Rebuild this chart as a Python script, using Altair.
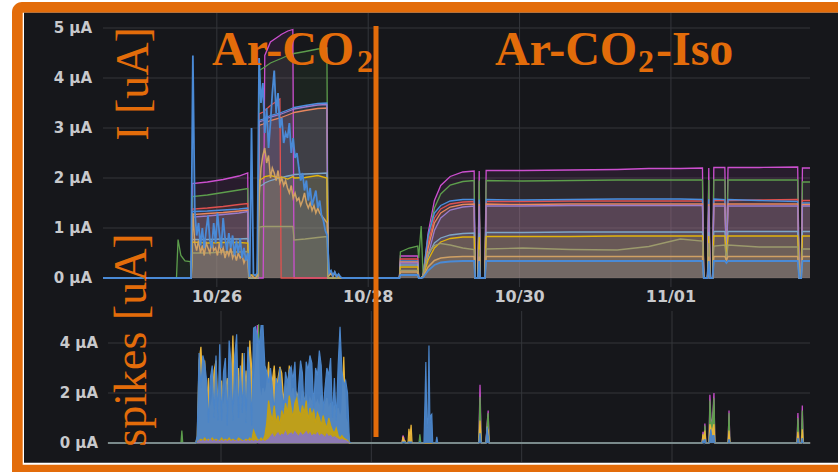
import numpy as np
import pandas as pd
import altair as alt

ORANGE = "#e36c0a"
PANEL = "#16171b"
GRID = "#34363b"
LABEL = "#c8c9cc"
LABEL_FONT = "DejaVu Sans"
TITLE_FONT = "Liberation Serif"

# time axis: hours after 10/24 00:00
TICK_HOURS = [48, 96, 144, 192]
TICK_LABELS = ["10/26", "10/28", "10/30", "11/01"]
TOP_X_DOMAIN = [11.9, 236.1]
BOT_X_DOMAIN = [11.92, 236.06]
TOP_Y_TICKS = [0, 1, 2, 3, 4, 5]
BOT_Y_TICKS = [0, 2, 4]

# ---------------- current panel (µA) ----------------
T_LEFT = [11.9, 35.2, 35.7, 36.6, 37.9, 39.6, 39.9, 40.2, 45.0, 50.0, 55.0, 57.8, 58.1,
          61.0, 61.4, 62.7, 63.2, 65.0, 68.0, 68.4, 70.5, 72.1, 72.5, 76.0, 80.0, 82.9, 83.3]
T_RIGHT = [105.9, 106.2, 109.0, 111.7, 112.0, 112.8, 113.4, 115.0, 117.0, 119.0, 122.0, 126.0,
           129.6, 129.9, 130.8, 131.2, 131.5, 133.0, 133.4, 145.0, 160.0, 175.0, 185.0, 195.0,
           202.0, 202.4, 203.6, 204.0, 204.4, 205.2, 205.6, 209.1, 209.6, 210.1, 220.0,
           232.2, 232.7, 233.3, 233.7, 236.1]

magenta_l = [0, 0, 0, 0, 0, 0, 0, 1.89, 1.92, 1.97, 2.04, 2.10, 0, 0, 0, 0,
             4.45, 4.72, 4.85, 4.87, 4.94, 4.97, 0, 0, 0, 0, 0]
magenta_r = [0, 0.44, 0.44, 0.44, 0, 0, 0.05, 0.90, 1.55, 1.85, 2.03, 2.12, 2.14, 0, 0, 2.14, 0, 0,
             2.15, 2.15, 2.16, 2.17, 2.19, 2.19, 2.20, 0, 0, 2.20, 0, 0, 2.21, 2.21, 0.36, 2.21,
             2.21, 2.22, 0, 0, 2.20, 2.20]
green_l = [0, 0, 0.77, 0.45, 0.34, 0.33, 0, 1.63, 1.66, 1.71, 1.76, 1.79, 0, 0,
           4.15, 4.20, 4.22, 4.30, 4.38, 4.39, 4.45, 4.48, 4.49, 4.53, 4.58, 4.60, 0]
green_r = [0, 0.52, 0.60, 0.64, 0.40, 1.04, 0.05, 0.80, 1.40, 1.68, 1.86, 1.93, 1.95, 0, 0, 1.95, 0, 0,
           1.95, 1.94, 1.95, 1.96, 1.96, 1.96, 1.96, 0, 0, 1.96, 0, 0, 1.96, 1.96, 0.36, 1.96,
           1.96, 1.96, 0, 0, 1.92, 1.92]
red_l = [0, 0, 0, 0, 0, 0, 0, 1.38, 1.40, 1.43, 1.47, 1.49, 0, 0,
         3.28, 3.32, 3.35, 3.45, 3.58, 0, 0, 0, 0, 0, 0, 0, 0]
red_r = [0, 0.38, 0.38, 0.38, 0, 0, 0.05, 0.70, 1.20, 1.38, 1.48, 1.52, 1.53, 0, 0, 1.53, 0, 0,
         1.53, 1.53, 1.54, 1.54, 1.54, 1.54, 1.54, 0, 0, 1.55, 0, 0, 1.55, 1.55, 0.36, 1.55,
         1.56, 1.57, 0, 0, 1.55, 1.55]
blue_l = [0, 0, 0, 0, 0, 0, 0, 1.33, 1.34, 1.36, 1.38, 1.40, 0, 0,
          3.15, 3.18, 3.20, 3.25, 3.30, 3.31, 3.36, 3.40, 3.41, 3.45, 3.49, 3.50, 0]
blue_r = [0, 0.34, 0.34, 0.34, 0, 0, 0.05, 0.85, 1.30, 1.45, 1.54, 1.57, 1.57, 0, 0, 1.57, 0, 0,
          1.57, 1.56, 1.57, 1.58, 1.58, 1.58, 1.57, 0, 0, 1.58, 0, 0, 1.58, 1.57, 0.36, 1.57,
          1.55, 1.53, 0, 0, 1.50, 1.50]
orange_l = [0, 0, 0, 0, 0, 0, 0, 1.27, 1.29, 1.31, 1.34, 1.36, 0, 0,
            3.05, 3.08, 3.10, 3.15, 3.20, 3.21, 3.26, 3.30, 3.31, 3.35, 3.39, 3.40, 0]
orange_r = [0, 0.32, 0.32, 0.32, 0, 0, 0.05, 0.60, 1.10, 1.30, 1.42, 1.47, 1.48, 0, 0, 1.48, 0, 0,
            1.48, 1.47, 1.48, 1.48, 1.48, 1.48, 1.48, 0, 0, 1.48, 0, 0, 1.48, 1.48, 0.36, 1.48,
            1.48, 1.48, 0, 0, 1.47, 1.47]
purple_l = [0, 0, 0, 0, 0, 0, 0, 1.22, 1.24, 1.27, 1.30, 1.33, 0, 0,
            3.12, 3.15, 3.17, 3.22, 3.27, 3.28, 3.33, 3.37, 3.38, 3.42, 3.46, 3.47, 0]
purple_r = [0, 0.30, 0.30, 0.30, 0, 0, 0.05, 0.45, 0.95, 1.20, 1.36, 1.42, 1.44, 0, 0, 1.44, 0, 0,
            1.44, 1.44, 1.45, 1.45, 1.45, 1.45, 1.45, 0, 0, 1.44, 0, 0, 1.44, 1.44, 0.36, 1.44,
            1.44, 1.44, 0, 0, 1.44, 1.44]
steel_l = [0, 0, 0, 0, 0, 0, 0, 0.77, 0.77, 0.78, 0.78, 0.79, 0, 0,
           1.83, 1.87, 1.90, 1.95, 2.00, 2.01, 2.04, 2.06, 2.07, 2.08, 2.09, 2.10, 0]
steel_r = [0, 0.26, 0.26, 0.26, 0, 0, 0.04, 0.45, 0.70, 0.80, 0.86, 0.89, 0.90, 0, 0, 0.90, 0, 0,
           0.91, 0.91, 0.92, 0.92, 0.92, 0.92, 0.92, 0, 0, 0.92, 0, 0, 0.93, 0.93, 0.36, 0.93,
           0.93, 0.93, 0, 0, 0.93, 0.93]
yellow_l = [0, 0, 0, 0, 0, 0, 0, 0.72, 0.70, 0.71, 0.71, 0.70, 0.06, 0.06,
            1.95, 2.00, 2.03, 2.05, 2.00, 2.02, 1.98, 2.03, 2.00, 2.01, 2.05, 2.00, 0]
yellow_r = [0, 0.22, 0.22, 0.22, 0, 0, 0.03, 0.36, 0.60, 0.72, 0.79, 0.82, 0.82, 0, 0, 0.82, 0, 0,
            0.83, 0.83, 0.83, 0.84, 0.84, 0.84, 0.84, 0, 0, 0.84, 0, 0, 0.84, 0.84, 0.36, 0.84,
            0.84, 0.84, 0, 0, 0.84, 0.84]
olive_l = [0, 0, 0, 0, 0, 0, 0, 0.50, 0.50, 0.52, 0.52, 0.53, 0, 0,
           1.02, 1.03, 1.03, 1.03, 1.03, 1.03, 1.03, 1.03, 0.76, 0.78, 0.81, 0.83, 0]
olive_r = [0, 0.15, 0.15, 0.15, 0, 0, 0.05, 0.50, 0.65, 0.69, 0.66, 0.60, 0.57, 0, 0, 0.57, 0, 0,
           0.58, 0.60, 0.57, 0.56, 0.63, 0.78, 0.74, 0, 0, 0.70, 0, 0, 0.64, 0.66, 0.36, 0.66,
           0.62, 0.62, 0, 0, 0.58, 0.58]

# two noisy channels, sampled every 0.6 h from 39.8 h
NOISY_START, NOISY_STEP = 39.8, 0.6
azure_dense = [0.0, 4.45, 1.35, 0.85, 1.10, 0.65, 1.00, 0.60, 0.95, 1.25, 0.75, 0.60, 1.10, 0.70,
               1.30, 0.90, 0.60, 1.20, 0.80, 0.55, 0.90, 0.60, 0.85, 0.45, 0.75, 0.50, 0.80, 0.40,
               0.60, 0.35, 0.50, 0.02, 3.00, 0.08, 0.05, 0.10,
               4.40, 3.50, 3.90, 2.90, 3.40, 2.60, 3.10, 3.70, 4.15, 3.30, 3.70, 3.00, 3.20, 2.70,
               2.90, 2.80, 3.10, 2.50, 2.80, 2.40, 2.50, 2.20, 1.95, 2.10, 1.75, 1.95, 1.55, 1.80,
               1.45, 1.60, 1.75, 1.40, 1.55, 1.25, 1.15, 0.95, 0.85,
               0.10, 0.15, 0.05, 0.12, 0.03, 0.08, 0.02, 0.0, 0.0]
azure_r = [0, 0.06, 0.06, 0.06, 0, 0, 0.01, 0.15, 0.26, 0.31, 0.33, 0.34, 0.34, 0, 0, 0.34, 0, 0,
           0.34, 0.34, 0.34, 0.34, 0.34, 0.34, 0.34, 0, 0, 0.34, 0, 0, 0.34, 0.34, 0.30, 0.34,
           0.34, 0.34, 0, 0, 0.34, 0.34]
tan_dense = [0.0, 1.30, 0.70, 0.55, 0.75, 0.50, 0.65, 0.45, 0.70, 0.60, 0.50, 0.75, 0.55, 0.60,
             0.45, 0.70, 0.50, 0.60, 0.40, 0.55, 0.45, 0.60, 0.40, 0.50, 0.35, 0.50, 0.40, 0.45,
             0.30, 0.40, 0.35, 0.02, 0.05, 0.02, 0.00, 0.05,
             1.60, 2.20, 2.45, 2.60, 2.30, 2.45, 2.00, 2.20, 2.10, 1.95, 2.15, 1.90, 2.00, 1.85,
             1.95, 1.80, 1.70, 1.85, 1.60, 1.70, 1.55, 1.60, 1.45, 1.55, 1.70, 1.50, 1.40, 1.50,
             1.35, 1.45, 1.30, 1.40, 1.30, 1.25, 1.20, 1.15, 1.10,
             0.05, 0.10, 0.02, 0.12, 0.02, 0.06, 0.0, 0.0, 0.0]
tan_r = [0, 0.12, 0.12, 0.12, 0, 0, 0.02, 0.22, 0.35, 0.40, 0.42, 0.43, 0.43, 0, 0, 0.43, 0, 0,
         0.43, 0.43, 0.43, 0.43, 0.43, 0.43, 0.43, 0, 0, 0.43, 0, 0, 0.43, 0.43, 0.36, 0.43,
         0.43, 0.43, 0, 0, 0.43, 0.43]

SMOOTH = {
    "magenta": (magenta_l, magenta_r), "green": (green_l, green_r), "red": (red_l, red_r),
    "blue": (blue_l, blue_r), "orange": (orange_l, orange_r), "purple": (purple_l, purple_r),
    "steel": (steel_l, steel_r), "yellow": (yellow_l, yellow_r), "olive": (olive_l, olive_r),
}
NOISY = {"tan": (tan_dense, tan_r), "azure": (azure_dense, azure_r)}
TOP_NAMES = ["magenta", "green", "red", "blue", "orange", "purple", "steel", "yellow", "olive", "tan", "azure"]
TOP_COLORS = ["#cc4fcf", "#5d9e4c", "#e0514f", "#4b8fe0", "#e8875e", "#9a7ccc", "#7fa6c6",
              "#e2b30c", "#9c9a6c", "#cfa064", "#4a8ad6"]

# ---------------- spikes panel (µA) ----------------
SPK_START, SPK_STEP = 40.4, 0.6
SPK_PRE_T = [11.9, 39.9]
SPK_PRE_V = [0, 0]
spk_blue_dense = [0.3, 3.6, 2.2, 3.5, 3.2, 2.5, 0.8, 2.6, 3.1, 1.0,
                  3.5, 0.9, 3.95, 0.9, 2.85, 3.4, 0.7, 4.1, 3.2, 0.9,
                  3.5, 4.35, 1.0, 3.1, 1.2, 3.6, 0.8, 3.85, 2.9, 0.7,
                  4.6, 4.65, 4.3, 3.9, 4.7, 4.7, 3.1, 2.85, 2.4, 3.0,
                  2.2, 1.2, 2.6, 2.2, 3.0, 2.05, 1.4, 2.85, 2.4, 2.9,
                  3.05, 2.5, 3.25, 1.3, 2.3, 3.3, 2.8, 1.1, 3.25, 2.9,
                  3.5, 3.2, 1.4, 3.0, 2.7, 3.7, 3.1, 1.2, 2.2, 3.0,
                  2.7, 3.4, 1.0, 2.6, 0.9, 3.1, 4.65, 2.9, 2.3, 2.5,
                  2.0, 0.05]
spk_gold_dense = [0.2, 3.3, 3.85, 2.0, 3.3, 1.5, 2.6, 1.2, 1.8, 2.9,
                  3.3, 1.4, 2.0, 2.5, 1.2, 2.1, 2.6, 1.5, 2.2, 4.3,
                  1.6, 2.5, 3.0, 1.4, 3.6, 1.8, 2.9, 1.5, 4.1, 3.0,
                  2.2, 3.1, 4.0, 2.4, 1.7, 2.2, 1.9, 2.3, 3.25, 1.8,
                  2.5, 3.1, 2.0, 2.6, 3.05, 2.8, 1.7, 2.3, 2.0, 3.1,
                  1.8, 2.2, 1.6, 2.0, 1.8, 1.5, 2.1, 1.7, 1.9, 1.4,
                  1.8, 1.6, 2.0, 1.5, 1.7, 1.4, 1.9, 1.6, 1.5, 1.8,
                  1.3, 1.6, 1.2, 1.5, 1.1, 1.4, 1.0, 1.3, 3.45, 1.0,
                  0.8, 0.0]
spk_mustard_dense = [0.05, 0.1, 0.15, 0.1, 0.2, 0.1, 0.15, 0.1, 0.2, 0.1, 0.15, 0.1, 0.1, 0.2,
                     0.1, 0.15, 0.1, 0.2, 0.1, 0.15, 0.1, 0.1, 0.2, 0.15, 0.1, 0.1, 0.15, 0.1,
                     0.2, 0.1, 0.5, 0.3, 0.15, 0.1, 0.2, 0.1, 0.3,
                     0.8, 1.7, 1.2, 0.9, 1.5, 0.8, 1.1, 0.7, 1.3, 1.0, 1.6, 1.2, 1.9, 1.4, 1.0,
                     1.6, 1.8, 1.3, 1.1, 1.5, 1.2, 1.7, 0.9, 1.4, 1.1, 1.3, 0.8, 1.2, 1.0, 0.7,
                     1.1, 0.8, 0.6, 1.0, 0.7, 0.5,
                     0.4, 0.6, 0.3, 0.2, 0.3, 0.2, 0.15, 0.1, 0.0]
spk_violet_dense = [0.0, 0.1, 0.05, 0.1, 0.05, 0.1, 0.05, 0.15, 0.05, 0.1, 0.05, 0.1, 0.05, 0.1,
                    0.05, 0.1, 0.05, 0.1, 0.05, 0.1, 0.05, 0.1, 0.05, 0.1, 0.05, 0.1, 0.05, 0.1,
                    0.05, 0.1, 0.05, 0.1, 0.05, 0.1, 0.05, 0.1, 0.05, 0.1, 0.15,
                    0.25, 0.35, 0.2, 0.3, 0.4, 0.25, 0.35, 0.3, 0.45, 0.25, 0.35, 0.4, 0.3, 0.45,
                    0.35, 0.25, 0.4, 0.3, 0.35, 0.45, 0.3, 0.4, 0.25, 0.35, 0.3, 0.4, 0.25, 0.35,
                    0.3, 0.2, 0.35, 0.25, 0.3, 0.2, 0.25, 0.2,
                    0.15, 0.1, 0.15, 0.1, 0.1, 0.05, 0.0]

T_SPK = [89.5, 105.8, 106.1, 106.4, 106.7, 107.0, 107.7, 108.0, 108.35, 108.7, 109.0, 111.2, 111.5,
         111.8, 112.8, 113.1, 113.4, 113.75, 114.1, 114.4, 114.7, 115.0, 115.3, 115.6, 116.6, 116.9,
         117.2, 130.3, 130.7, 131.1, 132.6, 132.95, 133.3, 133.65, 201.6, 201.9, 202.2, 202.5, 202.8,
         203.8, 204.1, 204.4, 204.75, 205.1, 205.4, 205.7, 209.9, 210.2, 210.5, 231.9, 232.2, 232.55,
         232.9, 233.3, 233.6, 233.9, 236.1]
spk_blue_r = [0, 0, 0.05, 0, 0.05, 0, 0, 0.05, 0, 0.05, 0, 0, 0.05, 0, 0, 1.5, 3.24, 0.6, 1.0, 3.9,
              0.8, 1.1, 1.15, 0, 0, 0.25, 0, 0, 0.4, 0, 0, 0.65, 0.3, 0, 0, 0.1, 0, 0.15, 0, 0,
              0.3, 0.55, 0.2, 0.3, 0.3, 0, 0, 0.15, 0, 0, 0.2, 0, 0, 0, 0.2, 0, 0]
spk_gold_r = [0, 0, 0.25, 0.1, 0.1, 0, 0, 0.57, 0.2, 0.73, 0, 0, 0, 0, 0, 0, 0, 0, 0, 0,
              0, 0, 0, 0, 0, 0, 0, 0, 0.9, 0, 0, 0.65, 0.5, 0, 0, 0.35, 0, 0.5, 0, 0,
              0.75, 0.6, 0.4, 0.6, 0.75, 0, 0, 0.5, 0, 0, 0.45, 0, 0, 0, 0.55, 0, 0]
spk_green_r = [0, 0, 0.1, 0, 0, 0, 0, 0, 0, 0, 0, 0, 0.35, 0, 0, 0, 0, 0, 0, 0,
               0, 0, 0, 0, 0, 0, 0, 0, 1.85, 0, 0, 0.7, 1.2, 0, 0, 0.35, 0, 0.7, 0, 0,
               1.7, 0.9, 0.6, 1.2, 1.8, 0, 0, 1.2, 0, 0, 1.0, 0, 0, 0, 1.3, 0, 0]
spk_magenta_r = [0, 0, 0.3, 0.2, 0, 0, 0, 0, 0, 0, 0, 0, 0, 0, 0, 0, 0, 0, 0, 0,
                 0, 0, 0, 0, 0, 0, 0, 0, 2.33, 0, 0, 0.75, 1.3, 0, 0, 0.45, 0, 0.78, 0, 0,
                 1.93, 1.0, 0.7, 1.3, 2.0, 0, 0, 1.3, 0, 0, 1.2, 0, 0, 0, 1.5, 0, 0]
spk_green_l_t = [11.9, 35.2, 35.5, 35.8, 59.6, 60.0, 60.4]
spk_green_l_v = [0, 0, 0.5, 0, 0, 4.75, 0]
spk_magenta_l_t = [11.9, 59.2, 59.6, 60.0]
spk_magenta_l_v = [0, 0, 4.72, 0]

SPK_NAMES = ["s_magenta", "s_green", "s_gold", "s_blue", "s_mustard", "s_violet"]
SPK_COLORS = ["#cc4fcf", "#5d9e4c", "#eab53a", "#4a84c8", "#c4a012", "#8a78bd"]


def frame(name, times, values):
    assert len(times) == len(values), name
    return pd.DataFrame({"t": list(times), "v": list(values), "s": name})


def grid_times(start, step, n):
    return [round(start + step * i, 2) for i in range(n)]


# assemble long tables
top_parts = []
for name, (lv, rv) in SMOOTH.items():
    top_parts.append(frame(name, T_LEFT + T_RIGHT, lv + rv))
smooth_df = pd.concat(top_parts, ignore_index=True)
noisy_frames = {}
for name, (dv, rv) in NOISY.items():
    times = [11.9] + grid_times(NOISY_START, NOISY_STEP, len(dv)) + T_RIGHT
    noisy_frames[name] = frame(name, times, [0.0] + dv + rv)
top_df = pd.concat([smooth_df] + list(noisy_frames.values()), ignore_index=True)

spk_frames = {
    "s_magenta": frame("s_magenta", spk_magenta_l_t + T_SPK, spk_magenta_l_v + spk_magenta_r),
    "s_green": frame("s_green", spk_green_l_t + T_SPK, spk_green_l_v + spk_green_r),
    "s_gold": frame("s_gold", SPK_PRE_T + grid_times(SPK_START, SPK_STEP, len(spk_gold_dense)) + T_SPK,
                    SPK_PRE_V + spk_gold_dense + spk_gold_r),
    "s_blue": frame("s_blue", SPK_PRE_T + grid_times(SPK_START, SPK_STEP, len(spk_blue_dense)) + T_SPK,
                    SPK_PRE_V + spk_blue_dense + spk_blue_r),
    "s_mustard": frame("s_mustard", grid_times(SPK_START, SPK_STEP, len(spk_mustard_dense)),
                       spk_mustard_dense),
    "s_violet": frame("s_violet", grid_times(SPK_START, SPK_STEP, len(spk_violet_dense)),
                      spk_violet_dense),
}

one = pd.DataFrame({"k": [0]})

# ---------------- scales ----------------
top_x = alt.Scale(domain=TOP_X_DOMAIN, range=[103, 810], nice=False, zero=False)
top_y = alt.Scale(domain=[0, 5], range=[278, 28], nice=False, zero=False)
bot_x = alt.Scale(domain=BOT_X_DOMAIN, range=[108, 810], nice=False, zero=False)
bot_y = alt.Scale(domain=[0, 4], range=[443, 343], nice=False, zero=False)
top_color = alt.Color("s:N", scale=alt.Scale(domain=TOP_NAMES, range=TOP_COLORS), legend=None)
bot_color = alt.Color("s:N", scale=alt.Scale(domain=SPK_NAMES, range=SPK_COLORS), legend=None)

# ---------------- frame ----------------
frame_layers = [
    alt.Chart(one).mark_rect(color=ORANGE, cornerRadius=10).encode(
        x=alt.value(12), x2=alt.value(860), y=alt.value(2), y2=alt.value(490)),
    alt.Chart(one).mark_rect(color="#ffffff").encode(
        x=alt.value(22.7), x2=alt.value(860), y=alt.value(12.7), y2=alt.value(464.7)),
    alt.Chart(one).mark_rect(color=PANEL).encode(
        x=alt.value(24), x2=alt.value(860), y=alt.value(12.7), y2=alt.value(462.7)),
]

# ---------------- current panel ----------------
ytick_top = pd.DataFrame({"v": TOP_Y_TICKS, "lab": [f"{v} µA" for v in TOP_Y_TICKS]})
xtick = pd.DataFrame({"h": TICK_HOURS, "lab": TICK_LABELS})

top_hgrid = alt.Chart(ytick_top).mark_rule(color=GRID, strokeWidth=1).encode(
    y=alt.Y("v:Q", scale=top_y, axis=None), x=alt.value(103), x2=alt.value(810))
top_vgrid = alt.Chart(xtick).mark_rule(color=GRID, strokeWidth=1).encode(
    x=alt.X("h:Q", scale=top_x, axis=None), y=alt.value(13), y2=alt.value(287))
top_enc = dict(
    x=alt.X("t:Q", scale=top_x, axis=None),
    y=alt.Y("v:Q", scale=top_y, axis=None, stack=None),
    color=top_color,
)
top_fill = alt.Chart(top_df).mark_area(opacity=0.1).encode(**top_enc)
top_lines = alt.Chart(smooth_df).mark_line(strokeWidth=1.3).encode(**top_enc)
tan_line = alt.Chart(noisy_frames["tan"]).mark_line(strokeWidth=1.5).encode(**top_enc)
azure_line = alt.Chart(noisy_frames["azure"]).mark_line(strokeWidth=1.8).encode(**top_enc)
top_ylab = alt.Chart(ytick_top).mark_text(
    align="right", baseline="middle", font=LABEL_FONT, fontSize=15, fontWeight="bold", color=LABEL
).encode(y=alt.Y("v:Q", scale=top_y, axis=None), x=alt.value(92), text="lab:N")
top_xlab = alt.Chart(xtick).mark_text(
    align="center", baseline="middle", font=LABEL_FONT, fontSize=16, fontWeight="bold", color=LABEL
).encode(x=alt.X("h:Q", scale=top_x, axis=None), y=alt.value(297), text="lab:N")

top_group = alt.layer(top_hgrid, top_vgrid, top_fill, top_lines, tan_line, azure_line,
                      top_ylab, top_xlab)

# ---------------- spikes panel ----------------
ytick_bot = pd.DataFrame({"v": BOT_Y_TICKS, "lab": [f"{v} µA" for v in BOT_Y_TICKS]})
bot_hgrid = alt.Chart(ytick_bot).mark_rule(color=GRID, strokeWidth=1).encode(
    y=alt.Y("v:Q", scale=bot_y, axis=None), x=alt.value(108), x2=alt.value(810))
bot_vgrid = alt.Chart(xtick).mark_rule(color=GRID, strokeWidth=1).encode(
    x=alt.X("h:Q", scale=bot_x, axis=None), y=alt.value(311), y2=alt.value(462))
bot_enc = dict(
    x=alt.X("t:Q", scale=bot_x, axis=None),
    y=alt.Y("v:Q", scale=bot_y, axis=None, stack=None),
    color=bot_color,
)
bot_series = []
for name in SPK_NAMES:
    df = spk_frames[name]
    bot_series.append(alt.Chart(df).mark_area(opacity=0.95).encode(**bot_enc))
    bot_series.append(alt.Chart(df).mark_line(strokeWidth=1.2).encode(**bot_enc))
bot_ylab = alt.Chart(ytick_bot).mark_text(
    align="right", baseline="middle", font=LABEL_FONT, fontSize=15, fontWeight="bold", color=LABEL
).encode(y=alt.Y("v:Q", scale=bot_y, axis=None), x=alt.value(98), text="lab:N")

bot_group = alt.layer(bot_hgrid, bot_vgrid, *bot_series, bot_ylab)

# ---------------- annotations ----------------
def label(text, x, y, size, weight="normal", angle=0, align="left"):
    mark = dict(text=text, font=TITLE_FONT, fontSize=size, fontWeight=weight, color=ORANGE,
                align=align, baseline="alphabetic")
    if angle:
        mark["angle"] = angle
    return alt.Chart(one).mark_text(**mark).encode(x=alt.value(x), y=alt.value(y))


notes = [
    alt.Chart(one).mark_rule(color=ORANGE, strokeWidth=5).encode(
        x=alt.value(376), y=alt.value(26), y2=alt.value(437)),
    label("I [uA]", 148, 84, 46, angle=270, align="center"),
    label("spikes [uA]", 146, 340, 46, angle=270, align="center"),
    label("Ar-CO", 212, 65, 48, weight="bold"),
    label("2", 357, 72, 32, weight="bold"),
    label("Ar-CO", 495, 65, 48, weight="bold"),
    label("2", 638, 72, 32, weight="bold"),
    label("-Iso", 656, 65, 48, weight="bold"),
]

chart = alt.layer(*frame_layers, top_group, bot_group, *notes).resolve_scale(
    x="independent", y="independent", color="independent"
).properties(
    width=838, height=472, background="#ffffff", padding=0,
    autosize=alt.AutoSizeParams(type="none"),
).configure_view(stroke=None)

chart.save("out.html", embed_options={"renderer": "svg", "actions": False})
